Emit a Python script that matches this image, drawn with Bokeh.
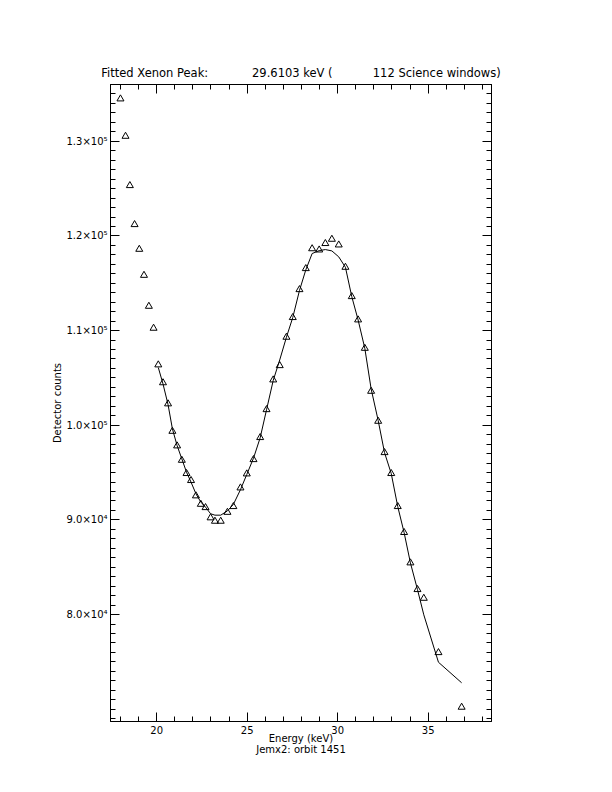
from bokeh.plotting import figure
from bokeh.models import Range1d, FixedTicker, LinearAxis, Title, CustomLabelingPolicy
from bokeh.embed import file_html
from bokeh.resources import INLINE

# ---- data ----
energy = [18.0, 18.28, 18.52, 18.78, 19.04, 19.3, 19.57, 19.83,
          20.09, 20.35, 20.63, 20.87, 21.13, 21.39, 21.65, 21.9, 22.17, 22.44,
          22.7, 22.98, 23.22, 23.54, 23.91, 24.24, 24.63, 24.98, 25.35, 25.72,
          26.07, 26.44, 26.8, 27.17, 27.52, 27.89, 28.24, 28.59, 28.98, 29.32,
          29.68, 30.06, 30.43, 30.78, 31.13, 31.5, 31.85, 32.24, 32.59, 32.96,
          33.32, 33.67, 34.02, 34.41, 34.76, 35.57, 36.85]
counts = [134480, 130530, 125320, 121200, 118590, 115840, 112570, 110250,
          106380, 104490, 102260, 99360, 97820, 96300, 94900, 94160, 92540, 91650,
          91300, 90220, 89860, 89860, 90800, 91410, 93380, 94860, 96370, 98700,
          101650, 104790, 106300, 109300, 111380, 114330, 116550, 118650, 118520, 119200,
          119650, 119050, 116690, 113590, 111130, 108130, 103590, 100420, 97110, 94900,
          91410, 88670, 85460, 82640, 81720, 75980, 70210]
fit_energy = energy[8:]
fit_counts = [106100, 104370, 102180, 99620, 97850, 96450, 95040, 93990, 92760, 91880,
              91350, 90650, 90500, 90500, 90950, 91640, 93190, 94800, 96520, 98680,
              101630, 104730, 106900, 109300, 111380, 114230, 116410, 118140, 118450, 118560,
              118420, 117790, 116690, 113590, 111130, 108130, 103840, 100490, 97110, 94900,
              91410, 88670, 85460, 82640, 79970, 74960, 72790]

xtick_values = [20, 25, 30, 35]
xminor_values = list(range(17, 39))
ytick_values = [80000, 90000, 100000, 110000, 120000, 130000]
ytick_labels = ["8.0×10⁴", "9.0×10⁴", "1.0×10⁵", "1.1×10⁵", "1.2×10⁵", "1.3×10⁵"]
yminor_values = list(range(68000, 137000, 1000))

NB = "\u00a0"
title_text = "Fitted Xenon Peak:" + NB * 12 + "29.6103 keV (" + NB * 11 + "112 Science windows)"
subtitle_text = "Jemx2: orbit 1451"
FONT = "DejaVu Sans"

p = figure(width=604, height=784,
           x_range=Range1d(17.45, 38.5), y_range=Range1d(68700, 136000),
           output_backend="svg", toolbar_location=None,
           min_border_left=110, min_border_right=113,
           min_border_top=84, min_border_bottom=63)
p.background_fill_color = "white"
p.border_fill_color = "white"
p.outline_line_color = "black"
p.xgrid.visible = False
p.ygrid.visible = False

p.title.text = title_text
p.title.text_font = FONT
p.title.text_font_size = "11.5px"
p.title.text_font_style = "normal"
p.title.text_color = "black"
p.title.align = "center"
p.title.standoff = 2

xt = FixedTicker(ticks=xtick_values, minor_ticks=xminor_values)
yt = FixedTicker(ticks=ytick_values, minor_ticks=yminor_values)

no_labels = CustomLabelingPolicy(code="""
    const ids = [...indices]
    for (const i of ids) { indices.unset(i) }
    return indices
""")


def style_axis(ax, labels=True):
    ax.axis_line_color = "black"
    ax.major_tick_in = 9
    ax.major_tick_out = 0
    ax.minor_tick_in = 5
    ax.minor_tick_out = 0
    ax.major_tick_line_color = "black"
    ax.minor_tick_line_color = "black"
    ax.major_label_text_font = FONT
    ax.major_label_text_font_size = "10px"
    ax.major_label_text_color = "black"
    ax.axis_label_text_font = FONT
    ax.axis_label_text_font_size = "10px"
    ax.axis_label_text_font_style = "normal"
    ax.axis_label_text_color = "black"
    if not labels:
        ax.major_label_policy = no_labels
        ax.major_label_text_font_size = "1px"
        ax.major_label_standoff = 0


xa = p.xaxis[0]
xa.ticker = xt
style_axis(xa)
xa.axis_label = "Energy (keV)"
xa.major_label_standoff = 4
xa.axis_label_standoff = -4

ya = p.yaxis[0]
ya.ticker = yt
style_axis(ya)
ya.axis_label = "Detector counts"
ya.major_label_overrides = dict(zip(ytick_values, ytick_labels))
ya.major_label_standoff = 3
ya.axis_label_standoff = 0

top = LinearAxis(ticker=xt)
style_axis(top, labels=False)
p.add_layout(top, "above")
right = LinearAxis(ticker=yt)
style_axis(right, labels=False)
p.add_layout(right, "right")

sub = Title(text=subtitle_text, align="center", text_font=FONT,
            text_font_size="10px", text_font_style="normal", text_color="black",
            standoff=-10)
p.add_layout(sub, "below")

p.line(fit_energy, fit_counts, line_color="black", line_width=1)
p.scatter(energy, counts, marker="triangle", size=7, fill_color=None,
          line_color="black", line_width=1)

open("out.html", "w").write(file_html(p, INLINE))
